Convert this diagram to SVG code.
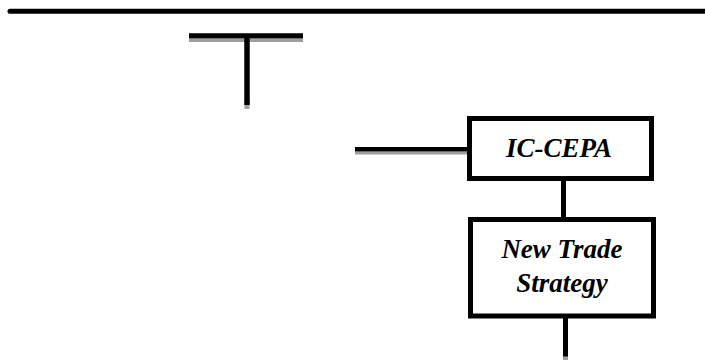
<svg xmlns="http://www.w3.org/2000/svg" width="705" height="360" viewBox="0 0 705 360">
  <style>
    .box { fill: #ffffff; stroke: #000000; stroke-width: 5; }
    .line { stroke: #000000; fill: none; }
    .shadow { stroke: #9e9e9e; fill: none; }
    .label { font-family: "Liberation Serif", "Times New Roman", serif; font-weight: bold; font-style: italic; font-size: 27px; fill: #000000; text-anchor: middle; }
  </style>
  <rect width="705" height="360" fill="#ffffff"/>

  <g id="connectors">
    <!-- top rule -->
    <line class="line" x1="10" y1="11.3" x2="705" y2="11.3" stroke-width="5" stroke-linecap="round"/>
    <!-- T-shaped branch -->
    <line class="shadow" x1="189" y1="40" x2="303" y2="40" stroke-width="4"/>
    <line class="shadow" x1="247" y1="100" x2="247" y2="109" stroke-width="5"/>
    <line class="line" x1="189" y1="35.7" x2="303" y2="35.7" stroke-width="5"/>
    <line class="line" x1="247" y1="36" x2="247" y2="105" stroke-width="5.5"/>
    <!-- feed into IC-CEPA -->
    <line class="shadow" x1="355" y1="153" x2="467" y2="153" stroke-width="3"/>
    <line class="line" x1="355" y1="149.2" x2="467" y2="149.2" stroke-width="4.6"/>
    <!-- IC-CEPA to New Trade Strategy -->
    <line class="line" x1="563.5" y1="181" x2="563.5" y2="217" stroke-width="5"/>
    <!-- below New Trade Strategy -->
    <line class="shadow" x1="565.5" y1="350" x2="565.5" y2="360" stroke-width="5"/>
    <line class="line" x1="565.5" y1="318" x2="565.5" y2="356.5" stroke-width="5"/>
  </g>

  <g id="ic-cepa">
    <rect class="box" x="469.5" y="118.5" width="182" height="60"/>
    <text class="label" x="559" y="156.5">IC-CEPA</text>
  </g>

  <g id="new-trade-strategy">
    <rect class="box" x="470.5" y="219.5" width="183" height="96.5"/>
    <text class="label" x="562" y="258">New Trade</text>
    <text class="label" x="562" y="291.5">Strategy</text>
  </g>
</svg>
